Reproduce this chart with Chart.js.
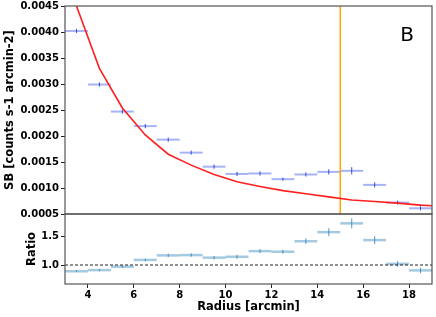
<!DOCTYPE html>
<html>
<head>
<meta charset="utf-8">
<script src="https://cdn.jsdelivr.net/npm/chart.js@4.4.1/dist/chart.umd.min.js"></script>
<style>
  html, body { margin: 0; padding: 0; background: #fff; }
  #wrap { position: relative; width: 436px; height: 317px; overflow: hidden; }
  #sb-box { position: absolute; left: 0; top: 0; }
  #ratio-box { position: absolute; left: 0; top: 208px; }
</style>
</head>
<body>
<div id="wrap">
  <div id="sb-box"><canvas id="sb-chart" width="436" height="222"></canvas></div>
  <div id="ratio-box"><canvas id="ratio-chart" width="436" height="109"></canvas></div>
</div>
<script>
// Radial bins (arcmin), each bin is 1 arcmin wide
const radius = [3.5, 4.5, 5.5, 6.5, 7.5, 8.5, 9.5, 10.5, 11.5, 12.5, 13.5, 14.5, 15.5, 16.5, 17.5, 18.5];
const radiusErr = 0.5;

// Surface brightness profile
const sbValues = [0.00402, 0.00299, 0.00247, 0.00219, 0.00193, 0.00168, 0.00141, 0.00127,
                  0.00128, 0.00117, 0.00126, 0.00131, 0.00133, 0.00106, 0.00072, 0.00061];
const sbErr = [0.00004, 0.00004, 0.00004, 0.00004, 0.00004, 0.00004, 0.00004, 0.00004,
               0.00004, 0.00003, 0.00004, 0.00005, 0.00007, 0.00005, 0.00004, 0.00004];

// Model curve
const modelRadius = [3.5, 4.5, 5.5, 6.5, 7.5, 8.5, 9.5, 10.5, 11.5, 12.5, 13.5, 14.5, 15.5, 16.5, 17.5, 18.5, 19];
const modelValues = [0.00450, 0.00330, 0.00254, 0.00202, 0.00165, 0.00144, 0.00126, 0.00112,
                     0.00103, 0.00095, 0.00089, 0.00083, 0.00077, 0.00074, 0.00071, 0.00067, 0.00066];

// Data / model ratio
const ratioValues = [0.89, 0.91, 0.97, 1.09, 1.17, 1.175, 1.13, 1.145,
                     1.245, 1.235, 1.42, 1.58, 1.735, 1.44, 1.02, 0.905];
const ratioErr = [0.015, 0.02, 0.02, 0.025, 0.03, 0.03, 0.03, 0.035,
                  0.035, 0.035, 0.05, 0.07, 0.09, 0.07, 0.05, 0.05];

const cutRadius = 15;
const sbTicks = [0.0005, 0.0010, 0.0015, 0.0020, 0.0025, 0.0030, 0.0035, 0.0040, 0.0045];
const ratioTicks = [1.0, 1.5];
const radiusTicks = [4, 6, 8, 10, 12, 14, 16, 18];
const radiusMin = 3;
const radiusMax = 19;
const ratioMin = 0.665;
const ratioMax = 1.9;

const tickFont = { family: 'DejaVu Sans', weight: 'bold', size: 10 };
const titleFont = { family: 'DejaVu Sans', weight: 'bold', size: 11.5 };

Chart.defaults.color = '#000';
Chart.defaults.animation = false;

// Draws x/y error bars for datasets that carry an errorBars option
const errorBarPlugin = {
    id: 'errorBars',
    beforeDatasetsDraw(chart) {
        const ctx = chart.ctx;
        const xs = chart.scales.x;
        const ys = chart.scales.y;
        const area = chart.chartArea;
        ctx.save();
        ctx.beginPath();
        ctx.rect(area.left, area.top, area.right - area.left, area.bottom - area.top);
        ctx.clip();
        chart.data.datasets.forEach(ds => {
            const eb = ds.errorBars;
            if (!eb) return;
            ds.data.forEach((p, i) => {
                const py = ys.getPixelForValue(p.y);
                const px = xs.getPixelForValue(p.x);
                ctx.strokeStyle = eb.xColor;
                ctx.lineWidth = eb.xWidth;
                ctx.beginPath();
                ctx.moveTo(xs.getPixelForValue(p.x - eb.xErr), py);
                ctx.lineTo(xs.getPixelForValue(p.x + eb.xErr), py);
                ctx.stroke();
                ctx.strokeStyle = eb.yColor;
                ctx.lineWidth = eb.yWidth;
                ctx.beginPath();
                ctx.moveTo(px, ys.getPixelForValue(p.y - eb.yErr[i]));
                ctx.lineTo(px, ys.getPixelForValue(p.y + eb.yErr[i]));
                ctx.stroke();
            });
        });
        ctx.restore();
    }
};

// Box around the plot area
const framePlugin = {
    id: 'frame',
    afterDraw(chart, args, opts) {
        const ctx = chart.ctx;
        const a = chart.chartArea;
        ctx.save();
        ctx.strokeStyle = '#555';
        ctx.lineWidth = 1.2;
        ctx.strokeRect(a.left, a.top, a.right - a.left, a.bottom - a.top);
        if (opts.label) {
            ctx.fillStyle = '#000';
            ctx.font = '20px "DejaVu Sans"';
            ctx.textAlign = 'center';
            ctx.textBaseline = 'middle';
            ctx.fillText(opts.label, a.left + 0.932 * (a.right - a.left), a.top + 0.143 * (a.bottom - a.top));
        }
        ctx.restore();
    }
};

function yAxis(min, max, ticks, fmt, title, titlePad) {
    return {
        type: 'linear',
        min: min,
        max: max,
        afterBuildTicks: s => { s.ticks = ticks.map(v => ({ value: v })); },
        afterFit: s => { s.width = 65; s.paddingTop = 0; s.paddingBottom = 0; },
        ticks: { callback: v => v.toFixed(fmt), font: tickFont, color: '#000', padding: 2 },
        grid: { drawOnChartArea: false, tickLength: 4, tickColor: '#222', tickWidth: 1 },
        border: { display: false },
        title: { display: true, text: title, font: titleFont, color: '#000', padding: { top: titlePad, bottom: 0 } }
    };
}

new Chart(document.getElementById('sb-chart'), {
    type: 'scatter',
    data: {
        datasets: [
            {
                label: 'SB',
                data: radius.map((r, i) => ({ x: r, y: sbValues[i] })),
                pointRadius: 0,
                showLine: false,
                errorBars: { xErr: radiusErr, yErr: sbErr, xColor: 'rgba(45, 75, 235, 0.42)', xWidth: 2, yColor: 'rgba(25, 45, 225, 0.85)', yWidth: 1 }
            },
            {
                label: 'Model',
                type: 'line',
                data: modelRadius.map((r, i) => ({ x: r, y: modelValues[i] })),
                borderColor: '#ff1f1f',
                borderWidth: 1.6,
                pointRadius: 0,
                tension: 0,
                fill: false
            },
            {
                label: 'Cut',
                type: 'line',
                data: [{ x: cutRadius, y: sbTicks[0] }, { x: cutRadius, y: sbTicks[sbTicks.length - 1] }],
                borderColor: '#ffa500',
                borderWidth: 1.5,
                pointRadius: 0
            }
        ]
    },
    options: {
        responsive: false,
        layout: { padding: { top: 6, bottom: 8, left: 0, right: 4 } },
        plugins: { legend: { display: false }, tooltip: { enabled: false }, frame: { label: 'B' } },
        scales: {
            x: { type: 'linear', min: radiusMin, max: radiusMax, display: false },
            y: yAxis(sbTicks[0], sbTicks[sbTicks.length - 1], sbTicks, 4, 'SB [counts s-1 arcmin-2]', 3)
        }
    },
    plugins: [errorBarPlugin, framePlugin]
});

new Chart(document.getElementById('ratio-chart'), {
    type: 'scatter',
    data: {
        datasets: [
            {
                label: 'Ratio',
                data: radius.map((r, i) => ({ x: r, y: ratioValues[i] })),
                pointRadius: 0,
                showLine: false,
                errorBars: { xErr: radiusErr, yErr: ratioErr, xColor: 'rgba(31, 119, 180, 0.4)', xWidth: 2.5, yColor: 'rgba(31, 119, 180, 0.75)', yWidth: 1 }
            },
            {
                label: 'Unity',
                type: 'line',
                data: [{ x: radiusMin, y: 1 }, { x: radiusMax, y: 1 }],
                borderColor: '#222',
                borderWidth: 1,
                borderDash: [3, 2],
                pointRadius: 0
            }
        ]
    },
    options: {
        responsive: false,
        layout: { padding: { top: 6, bottom: 0, left: 0, right: 4 } },
        plugins: { legend: { display: false }, tooltip: { enabled: false }, frame: {} },
        scales: {
            x: {
                type: 'linear',
                min: radiusMin,
                max: radiusMax,
                afterBuildTicks: s => { s.ticks = radiusTicks.map(v => ({ value: v })); },
                afterFit: s => { s.height = 33; s.paddingLeft = 0; s.paddingRight = 0; },
                ticks: { font: tickFont, color: '#000', padding: 1 },
                grid: { drawOnChartArea: false, tickLength: 4, tickColor: '#222', tickWidth: 1 },
                border: { display: false },
                title: { display: true, text: 'Radius [arcmin]', font: titleFont, color: '#000', padding: { top: 0, bottom: 3 } }
            },
            y: yAxis(ratioMin, ratioMax, ratioTicks, 1, 'Ratio', 25)
        }
    },
    plugins: [errorBarPlugin, framePlugin]
});
</script>
</body>
</html>
